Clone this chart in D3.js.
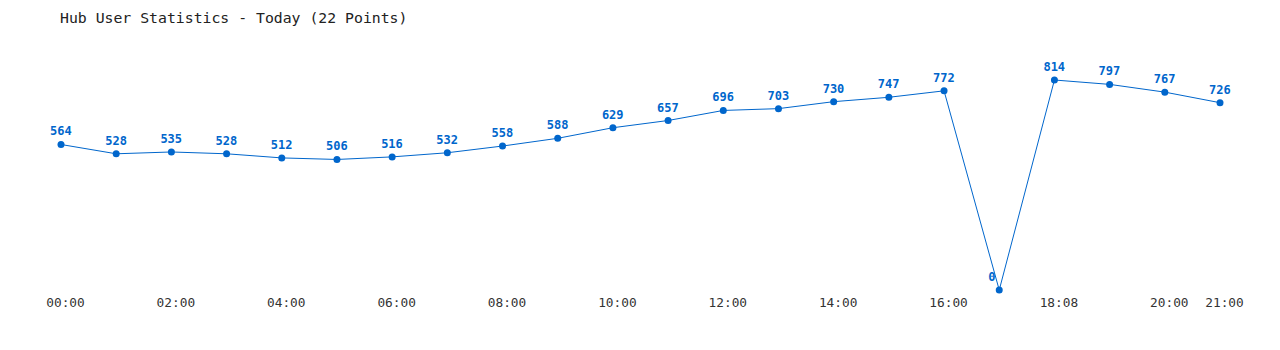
<!DOCTYPE html>
<html>
<head>
<meta charset="utf-8">
<script src="https://cdn.jsdelivr.net/npm/d3@7"></script>
<style>
  body { margin: 0; background: #fff; }
  svg { display: block; }
</style>
</head>
<body>
<script>
var title = "Hub User Statistics - Today (22 Points)";
var users = [564, 528, 535, 528, 512, 506, 516, 532, 558, 588, 629, 657, 696, 703, 730, 747, 772, 0, 814, 797, 767, 726];
var tickIndex = [0, 2, 4, 6, 8, 10, 12, 14, 16, 18, 20, 21];
var tickLabels = ["00:00", "02:00", "04:00", "06:00", "08:00", "10:00", "12:00", "14:00", "16:00", "18:08", "20:00", "21:00"];

var w = 1280, h = 350,
    blue = "#0066cc",
    mono = "'DejaVu Sans Mono', 'Liberation Mono', monospace";

var svg = d3.select("body").append("svg").attr("width", w).attr("height", h);

svg.append("text")
  .attr("x", 60).attr("y", 23)
  .attr("font-family", mono).attr("font-size", "14.8px")
  .attr("fill", "#222")
  .text(title);

var x = d3.scalePoint().domain(d3.range(users.length)).range([61, 1220]);
var y = d3.scaleLinear().domain([0, d3.max(users)]).range([290, 80]);

var xAxis = d3.axisBottom(x)
  .tickValues(tickIndex)
  .tickSize(0)
  .tickPadding(0)
  .tickFormat(function(d){ return tickLabels[tickIndex.indexOf(d)]; });

var gx = svg.append("g").attr("transform", "translate(4,297)").call(xAxis);
gx.select(".domain").remove();
gx.selectAll("text")
  .attr("font-family", mono).attr("font-size", "12.8px")
  .attr("fill", "#333").attr("dy", "0.8em");

svg.append("path")
  .datum(users)
  .attr("fill", "none")
  .attr("stroke", blue)
  .attr("stroke-width", 1)
  .attr("d", d3.line().x(function(d, i){ return x(i); }).y(function(d){ return y(d); }));

svg.selectAll("circle")
  .data(users)
  .enter()
  .append("circle")
  .attr("cx", function(d, i){ return x(i); })
  .attr("cy", function(d){ return y(d); })
  .attr("r", 3.5)
  .attr("fill", blue);

svg.selectAll(".val")
  .data(users)
  .enter()
  .append("text")
  .attr("class", "val")
  .attr("x", function(d, i){ return x(i) - 11; })
  .attr("y", function(d){ return y(d) - 9; })
  .attr("font-family", mono).attr("font-size", "12px")
  .attr("font-weight", "bold")
  .attr("fill", blue)
  .text(function(d){ return d; });
</script>
</body>
</html>
